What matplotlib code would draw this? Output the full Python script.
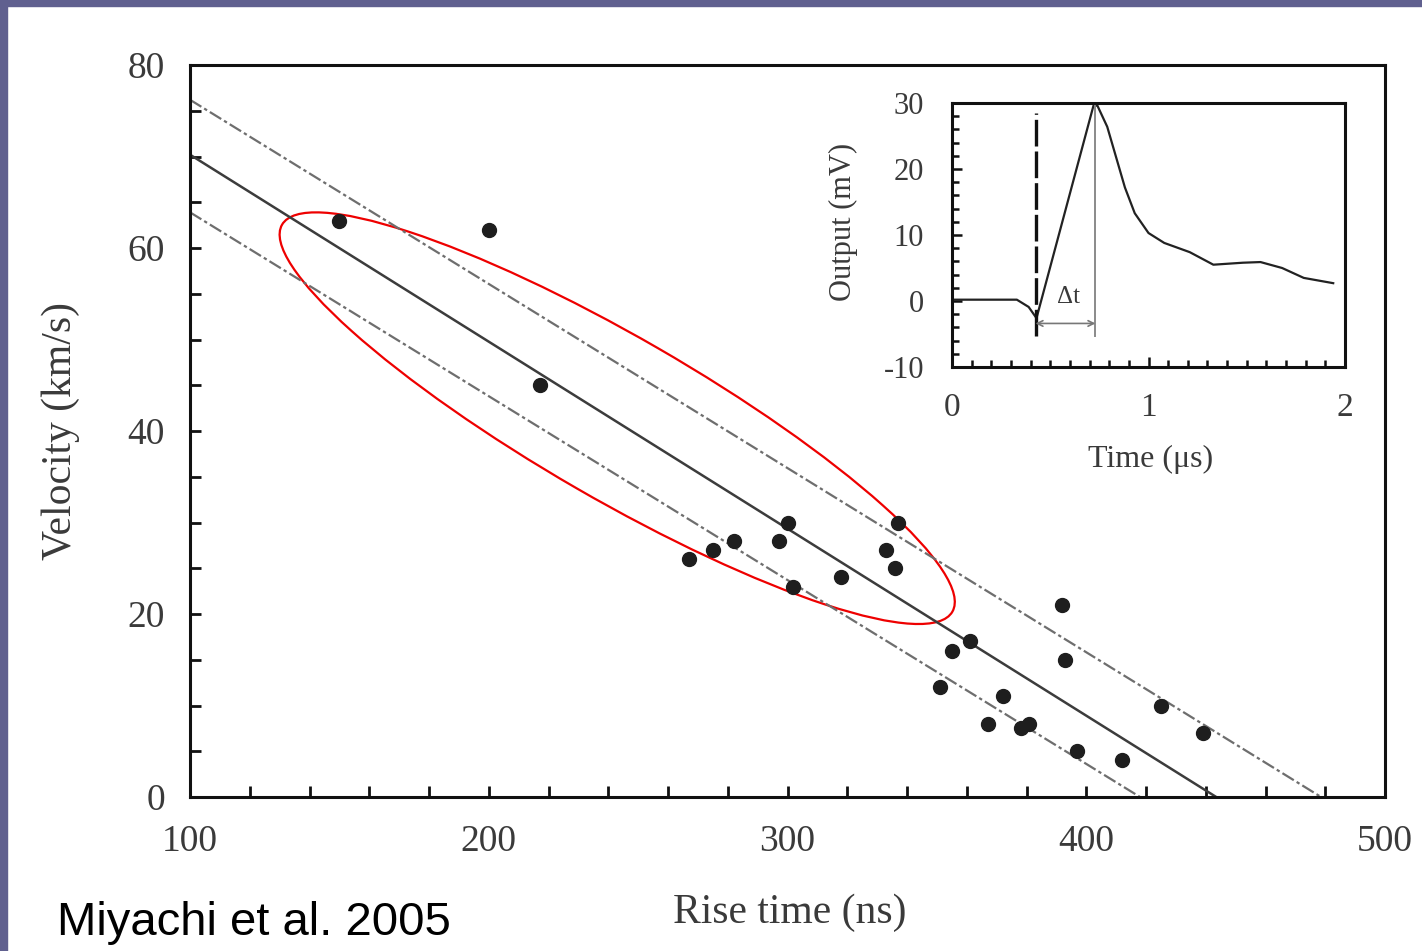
import numpy as np
import matplotlib
matplotlib.use("Agg")
import matplotlib.pyplot as plt
from matplotlib.patches import Ellipse, Rectangle
from matplotlib.transforms import Affine2D
from matplotlib.ticker import MultipleLocator

# datos del gráfico principal
rise_ns = [150, 200, 217, 267, 275, 282, 297, 300, 302, 318, 333, 336, 337,
           351, 355, 361, 367, 372, 378, 381, 392, 393, 397, 412, 425, 439]
velocity = [63, 62, 45, 26, 27, 28, 28, 30, 23, 24, 27, 25, 30,
            12, 16, 17, 8, 11, 7.5, 8, 21, 15, 5, 4, 10, 7]

# rectas de ajuste: valor en x=100 y corte con el eje x
fit_v100 = [76.2, 70.2, 63.9]
fit_x0 = [478.6, 443.5, 418.0]
fit_styles = ["upper", "center", "lower"]

# señal del recuadro
t_us = [0.0, 0.1, 0.2, 0.33, 0.39, 0.43, 0.72, 0.74, 0.79, 0.88, 0.93, 1.0, 1.08,
        1.21, 1.33, 1.48, 1.57, 1.68, 1.79, 1.94]
out_mv = [0.2, 0.2, 0.2, 0.2, -0.9, -2.6, 29.6, 29.6, 26.4, 17.2, 13.3, 10.3, 8.8,
          7.4, 5.5, 5.8, 5.9, 5.0, 3.5, 2.7]
t_start = 0.425
t_peak = 0.73

txt = "#3a3a3a"
serif = ["Liberation Serif", "DejaVu Serif"]

fig = plt.figure(figsize=(14.22, 9.51), dpi=100)
fig.patch.set_facecolor("white")

# marco violeta de la diapositiva
fig.patches.append(Rectangle((0, 1 - 6 / 951), 1, 6 / 951, transform=fig.transFigure,
                             color="#60608f", zorder=0))
fig.patches.append(Rectangle((0, 0), 7 / 1422, 1, transform=fig.transFigure,
                             color="#60608f", zorder=0))

ax = fig.add_axes([190 / 1422, 154 / 951, 1195 / 1422, 732 / 951])
ax.set_xlim(100, 500)
ax.set_ylim(0, 80)

xs = np.array([100, 500])
for v100, x0, kind in zip(fit_v100, fit_x0, fit_styles):
    ys = v100 - v100 * (xs - 100) / (x0 - 100)
    if kind == "center":
        ax.plot(xs, ys, color="#3c3c3c", lw=1.8, solid_capstyle="butt")
    else:
        ax.plot(xs, ys, color="#6e6e6e", lw=1.6, linestyle=(0, (6, 1.5, 1.5, 1.5)))

ax.plot(rise_ns, velocity, "o", color="#1e1e1e", markersize=10, zorder=3)

# elipse roja (en píxeles, llevada a datos)
px_x = 1195 / 400
px_y = 732 / 80
ell = Ellipse((0, 0), 2 * 387, 2 * 81, angle=-30, fill=False, edgecolor="#ee0000", lw=1.6)
ell.set_transform(Affine2D().scale(1 / px_x, 1 / px_y).translate(243, 41.4) + ax.transData)
ax.add_patch(ell)

for s in ax.spines.values():
    s.set_linewidth(2.2)
    s.set_color("#111111")
ax.xaxis.set_major_locator(MultipleLocator(100))
ax.xaxis.set_minor_locator(MultipleLocator(20))
ax.yaxis.set_major_locator(MultipleLocator(20))
ax.yaxis.set_minor_locator(MultipleLocator(5))
ax.tick_params(which="both", direction="in", top=False, right=False, width=2, colors="#111111")
ax.tick_params(which="major", length=8)
ax.tick_params(which="minor", length=8)
ax.tick_params(axis="y", pad=18, labelsize=27, labelcolor=txt)
ax.tick_params(axis="x", pad=20, labelsize=27, labelcolor=txt)
ax.set_xticks([100, 200, 300, 400, 500])
ax.set_xticklabels(["100", "200", "300", "400", "500"], family=serif)
ax.set_yticks([0, 20, 40, 60, 80])
ax.set_yticklabels(["0", "20", "40", "60", "80"], family=serif)

ax.set_xlabel("Rise time (ns)", fontsize=30, color=txt, family=serif)
ax.xaxis.set_label_coords(0.502, -0.132)
ax.set_ylabel("Velocity (km/s)", fontsize=30, color=txt, family=serif)
ax.yaxis.set_label_coords(-0.092, 0.5)

# recuadro
ins = fig.add_axes([952 / 1422, 584 / 951, 393 / 1422, 264 / 951])
ins.set_xlim(0, 2)
ins.set_ylim(-10, 30)
ins.plot(t_us, out_mv, color="#222222", lw=1.6)
ins.plot([t_start, t_start], [-5.3, 28.5], color="#111111", lw=2.4, linestyle=(0, (8, 1.5)))
ins.plot([t_peak, t_peak], [-5.3, 30], color="#8a8a8a", lw=1.4)
ins.annotate("", xy=(t_start, -3.4), xytext=(t_peak, -3.4),
             arrowprops=dict(arrowstyle="<->", color="#777777", lw=1.2, shrinkA=0, shrinkB=0))
ins.text(0.595, 0.6, "Δt", fontsize=18, color=txt, family=serif, ha="center", va="center")

for s in ins.spines.values():
    s.set_linewidth(2.2)
    s.set_color("#111111")
ins.xaxis.set_major_locator(MultipleLocator(1))
ins.xaxis.set_minor_locator(MultipleLocator(0.1))
ins.yaxis.set_major_locator(MultipleLocator(10))
ins.yaxis.set_minor_locator(MultipleLocator(2))
ins.tick_params(which="both", direction="in", top=False, right=False, width=1.8, colors="#111111")
ins.tick_params(which="major", length=7)
ins.tick_params(which="minor", length=5)
ins.tick_params(axis="y", pad=20, labelsize=22, labelcolor=txt)
ins.tick_params(axis="x", pad=18, labelsize=24, labelcolor=txt)
ins.set_xticks([0, 1, 2])
ins.set_xticklabels(["0", "1", "2"], family=serif)
ins.set_yticks([-10, 0, 10, 20, 30])
ins.set_yticklabels(["-10", "0", "10", "20", "30"], family=serif)
ins.set_xlabel("Time (μs)", fontsize=23, color=txt, family=serif)
ins.xaxis.set_label_coords(0.504, -0.295)
ins.set_ylabel("Output (mV)", fontsize=22, color=txt, family=serif)
ins.yaxis.set_label_coords(-0.24, 0.55)

fig.text(57 / 1422, 1 - 935 / 951, "Miyachi et al. 2005", fontsize=34, color="black",
         family=["Liberation Sans", "DejaVu Sans"], ha="left", va="baseline")

fig.savefig("out.png", dpi=100)
